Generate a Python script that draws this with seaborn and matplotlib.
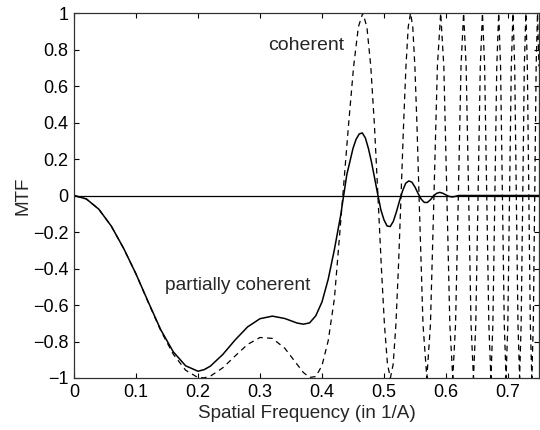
import matplotlib
matplotlib.use("Agg")
import matplotlib.pyplot as plt
import matplotlib.ticker as mticker
import seaborn as sns
import pandas as pd

# ---- data ----
# coherent transfer function (dashed)
k_coherent = [0.000, 0.020, 0.040, 0.060, 0.080, 0.100, 0.120, 0.140, 0.160, 0.180,
              0.200, 0.210, 0.220, 0.240, 0.260, 0.280, 0.300, 0.320, 0.340, 0.360,
              0.370, 0.380, 0.390, 0.400, 0.410, 0.420,
              0.4336, 0.4427, 0.4510, 0.4587, 0.4658, 0.4724, 0.4787, 0.4846, 0.4902,
              0.4956, 0.5007, 0.5056, 0.5103, 0.5148, 0.5192, 0.5234, 0.5275,
              0.5315, 0.5354, 0.5391, 0.5428, 0.5464, 0.5498, 0.5532, 0.5565,
              0.5629, 0.5691, 0.5749, 0.5806, 0.5861, 0.5914, 0.5965, 0.6014,
              0.6062, 0.6109, 0.6154, 0.6199, 0.6242, 0.6284, 0.6325, 0.6365,
              0.6404, 0.6443, 0.6480, 0.6517, 0.6553, 0.6588, 0.6623, 0.6657,
              0.6691, 0.6724, 0.6756, 0.6788, 0.6819, 0.6850, 0.6880, 0.6910,
              0.6940, 0.6969, 0.6997, 0.7025, 0.7053, 0.7080, 0.7108, 0.7134,
              0.7161, 0.7187, 0.7212, 0.7238, 0.7263, 0.7288, 0.7312, 0.7336,
              0.7360, 0.7384, 0.7408, 0.7431, 0.7454, 0.7476, 0.7499]
mtf_coherent = [0.000, -0.019, -0.075, -0.167, -0.290, -0.430, -0.588, -0.741, -0.869, -0.957,
                -0.998, -0.999, -0.990, -0.944, -0.879, -0.816, -0.778, -0.783, -0.837, -0.926,
                -0.970, -0.997, -0.992, -0.932, -0.796, -0.565,
                0.000, 0.383, 0.707, 0.924, 1.000, 0.924, 0.707, 0.383, 0.000,
                -0.383, -0.707, -0.924, -1.000, -0.924, -0.707, -0.383, 0.000,
                0.383, 0.707, 0.924, 1.000, 0.924, 0.707, 0.383, 0.000,
                -0.707, -1.000, -0.707, 0.000, 0.707, 1.000, 0.707, 0.000,
                -0.707, -1.000, -0.707, 0.000, 0.707, 1.000, 0.707, 0.000,
                -0.707, -1.000, -0.707, 0.000, 0.707, 1.000, 0.707, 0.000,
                -0.707, -1.000, -0.707, 0.000, 0.707, 1.000, 0.707, 0.000,
                -0.707, -1.000, -0.707, 0.000, 0.707, 1.000, 0.707, 0.000,
                -0.707, -1.000, -0.707, 0.000, 0.707, 1.000, 0.707, 0.000,
                -0.707, -1.000, -0.707, 0.000, 0.707, 1.000, 0.707]

# partially coherent transfer function (solid)
k_partial = [0.000, 0.020, 0.040, 0.060, 0.080, 0.100, 0.120, 0.140, 0.160, 0.180,
             0.200, 0.210, 0.220, 0.240, 0.260, 0.280, 0.300, 0.320, 0.340, 0.360,
             0.370, 0.380, 0.390, 0.400, 0.410, 0.420, 0.430, 0.440, 0.450, 0.455,
             0.460, 0.465, 0.470, 0.475, 0.480, 0.485, 0.490, 0.495, 0.500, 0.505,
             0.510, 0.515, 0.520, 0.525, 0.530, 0.535, 0.540, 0.545, 0.550, 0.555,
             0.560, 0.565, 0.570, 0.575, 0.580, 0.585, 0.590, 0.595, 0.600, 0.605,
             0.610, 0.615, 0.620, 0.640, 0.750]
mtf_partial = [0.000, -0.019, -0.075, -0.167, -0.289, -0.430, -0.585, -0.736, -0.856, -0.933,
               -0.963, -0.954, -0.935, -0.871, -0.791, -0.720, -0.675, -0.661, -0.674, -0.699,
               -0.705, -0.698, -0.659, -0.583, -0.459, -0.296, -0.111, 0.114, 0.258, 0.308,
               0.337, 0.343, 0.315, 0.256, 0.180, 0.093, 0.004, -0.079, -0.134, -0.167,
               -0.170, -0.142, -0.090, -0.030, 0.026, 0.067, 0.080, 0.073, 0.046, 0.011,
               -0.020, -0.038, -0.038, -0.023, -0.002, 0.012, 0.017, 0.012, 0.003, -0.005,
               -0.008, -0.005, 0.000, 0.000, 0.000]

x_ticks = [0, 0.1, 0.2, 0.3, 0.4, 0.5, 0.6, 0.7]
y_ticks = [-1, -0.8, -0.6, -0.4, -0.2, 0, 0.2, 0.4, 0.6, 0.8, 1]
x_label = "Spatial Frequency (in 1/A)"
y_label = "MTF"
label_coherent = "coherent"
label_partial = "partially coherent"

# ---- styling ----
sns.set_style("ticks")
plt.rcParams["font.family"] = ["Liberation Sans", "DejaVu Sans"]
plt.rcParams["xtick.direction"] = "in"
plt.rcParams["ytick.direction"] = "in"

fig = plt.figure(figsize=(5.4, 4.3), dpi=100)
ax = fig.add_axes([74 / 540, 1 - 378 / 430, 465 / 540, 365 / 430])

df_coh = pd.DataFrame({"k": k_coherent, "mtf": mtf_coherent})
df_par = pd.DataFrame({"k": k_partial, "mtf": mtf_partial})

ax.axhline(0, color="black", lw=0.9, zorder=1)
sns.lineplot(data=df_coh, x="k", y="mtf", ax=ax, color="black", lw=0.9,
             linestyle=(0, (4.5, 3.5)), estimator=None, sort=False)
sns.lineplot(data=df_par, x="k", y="mtf", ax=ax, color="black", lw=1.1,
             estimator=None, sort=False)

ax.set_xlim(0, 0.75)
ax.set_ylim(-1, 1)
ax.set_xticks(x_ticks)
ax.set_yticks(y_ticks)
fmt = mticker.FuncFormatter(lambda v, p: ("%g" % round(v, 2)).replace("-", "\u2212"))
ax.xaxis.set_major_formatter(fmt)
ax.yaxis.set_major_formatter(fmt)
ax.tick_params(axis="both", which="both", direction="in", length=3.5, width=0.8,
               top=True, right=True, labelsize=13, colors="black", pad=4)
for s in ax.spines.values():
    s.set_visible(True)
    s.set_color("#333333")
    s.set_linewidth(0.9)

ax.set_xlabel(x_label, fontsize=13.6, labelpad=3)
ax.set_ylabel(y_label, fontsize=13.6, labelpad=1)

ax.text(0.313, 0.822, label_coherent, fontsize=14, va="center", ha="left")
ax.text(0.147, -0.493, label_partial, fontsize=13.8, va="center", ha="left")

fig.savefig("out.png", dpi=100)
